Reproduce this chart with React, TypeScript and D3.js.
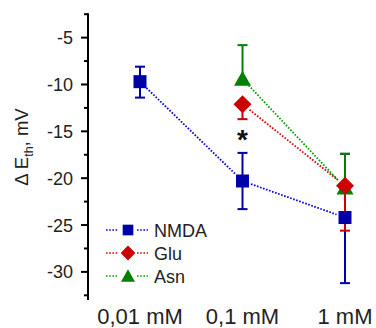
import React from "react";
import * as d3 from "d3";

const categories = ["0,01 mM", "0,1 mM", "1 mM"];
const yTicks = [-5, -10, -15, -20, -25, -30];
const yMinorTicks = [-2.5, -7.5, -12.5, -17.5, -22.5, -27.5, -32.5];

// value, error up, error down (0 = not shown)
const nmdaCats = ["0,01 mM", "0,1 mM", "1 mM"];
const nmdaValues = [-9.7, -20.3, -24.2];
const nmdaErrUp = [1.6, 3.0, 6.8];
const nmdaErrDown = [1.7, 3.0, 7.0];

const gluCats = ["0,1 mM", "1 mM"];
const gluValues = [-12.1, -20.8];
const gluErrUp = [0, 0];
const gluErrDown = [1.6, 4.8];

const asnCats = ["0,1 mM", "1 mM"];
const asnValues = [-9.4, -21.0];
const asnErrUp = [3.6, 3.6];
const asnErrDown = [0, 0];

const seriesNames = ["NMDA", "Glu", "Asn"];

const W = 376;
const H = 328;
const FONT = "Arial, 'Liberation Sans', sans-serif";

const x = d3.scalePoint<string>().domain(categories).range([140, 345]);
const y = d3.scaleLinear().domain([-33, -2.5]).range([300, 14.2]);

type Series = {
  name: string;
  cats: string[];
  values: number[];
  up: number[];
  down: number[];
  line: string;
  fill: string;
  shape: "square" | "diamond" | "triangle";
};

const nmda: Series = { name: seriesNames[0], cats: nmdaCats, values: nmdaValues, up: nmdaErrUp, down: nmdaErrDown, line: "#0000E0", fill: "#0000A8", shape: "square" };
const glu: Series = { name: seriesNames[1], cats: gluCats, values: gluValues, up: gluErrUp, down: gluErrDown, line: "#E00000", fill: "#CC0000", shape: "diamond" };
const asn: Series = { name: seriesNames[2], cats: asnCats, values: asnValues, up: asnErrUp, down: asnErrDown, line: "#00A000", fill: "#008000", shape: "triangle" };

const lineOrder = [asn, glu, nmda];
const errOrder = [nmda, glu, asn];
const markerOrder = [asn, glu, nmda];

function marker(shape: Series["shape"], cx: number, cy: number, fill: string, s = 1) {
  if (shape === "square") {
    const h = 6.5 * s;
    return <rect x={cx - h} y={cy - h} width={2 * h} height={2 * h} fill={fill} />;
  }
  if (shape === "diamond") {
    const h = 9 * s;
    return <path d={`M${cx},${cy - h}L${cx + h},${cy}L${cx},${cy + h}L${cx - h},${cy}Z`} fill={fill} />;
  }
  const hw = 8.5 * s;
  const hh = 7 * s;
  return <path d={`M${cx},${cy - hh - 1}L${cx + hw},${cy + hh}L${cx - hw},${cy + hh}Z`} fill={fill} />;
}

function shortened(x1: number, y1: number, x2: number, y2: number, g: number) {
  const dx = x2 - x1, dy = y2 - y1;
  const L = Math.hypot(dx, dy);
  const ux = dx / L, uy = dy / L;
  return { x1: x1 + ux * g, y1: y1 + uy * g, x2: x2 - ux * g, y2: y2 - uy * g };
}

export default function App() {
  const axisX = 88;
  const legendRows = [
    { s: nmda, yy: 230 },
    { s: glu, yy: 253 },
    { s: asn, yy: 276 },
  ];
  return (
    <svg width={W} height={H} style={{ position: "absolute", left: 0, top: 0, background: "#fff" }} fontFamily={FONT}>
      {/* Y axis */}
      <line x1={axisX} x2={axisX} y1={y(-2.5) - 1} y2={y(-33)} stroke="#000" strokeWidth={2} />
      {yTicks.map((t) => (
        <g key={t}>
          <line x1={axisX - 7} x2={axisX} y1={y(t)} y2={y(t)} stroke="#000" strokeWidth={2} />
          <text x={axisX - 15} y={y(t) + 6.5} textAnchor="end" fontSize={18} fill="#222">{t}</text>
        </g>
      ))}
      {yMinorTicks.map((t) => (
        <line key={t} x1={axisX - 4} x2={axisX} y1={y(t)} y2={y(t)} stroke="#000" strokeWidth={2} />
      ))}
      {/* Y label */}
      <text transform={`translate(28,147) rotate(-90)`} textAnchor="middle" fontSize={18.5} fill="#222">
        Δ E<tspan fontSize={12.5} dy={5}>th</tspan><tspan dy={-5}>, mV</tspan>
      </text>
      {/* X labels */}
      {categories.map((c) => (
        <text key={c} x={x(c)} y={323.5} textAnchor="middle" fontSize={22} fill="#222">{c}</text>
      ))}
      {/* connecting lines */}
      {lineOrder.map((s) => (
        <g key={s.name + "l"}>
          {s.cats.slice(1).map((c, i) => {
            const seg = shortened(x(s.cats[i])!, y(s.values[i]), x(c)!, y(s.values[i + 1]), 9);
            return <line key={c} {...seg} stroke={s.line} strokeWidth={1.8} strokeDasharray="1.6,1.6" />;
          })}
        </g>
      ))}
      {/* error bars */}
      {errOrder.map((s) => (
        <g key={s.name + "e"}>
          {s.cats.map((c, i) => {
            const cx = x(c)!;
            const v = s.values[i];
            return (
              <g key={c}>
                {s.up[i] > 0 && (
                  <g>
                    <line x1={cx} x2={cx} y1={y(v)} y2={y(v + s.up[i])} stroke={s.fill} strokeWidth={2} />
                    <line x1={cx - 5} x2={cx + 5} y1={y(v + s.up[i])} y2={y(v + s.up[i])} stroke={s.fill} strokeWidth={2} />
                  </g>
                )}
                {s.down[i] > 0 && (
                  <g>
                    <line x1={cx} x2={cx} y1={y(v)} y2={y(v - s.down[i])} stroke={s.fill} strokeWidth={2} />
                    <line x1={cx - 5} x2={cx + 5} y1={y(v - s.down[i])} y2={y(v - s.down[i])} stroke={s.fill} strokeWidth={2} />
                  </g>
                )}
              </g>
            );
          })}
        </g>
      ))}
      {/* markers */}
      {markerOrder.map((s) => (
        <g key={s.name + "m"}>
          {s.cats.map((c, i) => (
            <g key={c}>{marker(s.shape, x(c)!, y(s.values[i]), s.fill)}</g>
          ))}
        </g>
      ))}
      {/* asterisk */}
      <text x={x("0,1 mM")} y={149} textAnchor="middle" fontSize={28} fontWeight="bold" fill="#111">*</text>
      {/* legend */}
      {legendRows.map(({ s, yy }) => (
        <g key={s.name + "lg"}>
          <line x1={106} x2={118} y1={yy} y2={yy} stroke={s.line} strokeWidth={1.6} strokeDasharray="1.6,1.6" />
          <line x1={137} x2={148} y1={yy} y2={yy} stroke={s.line} strokeWidth={1.6} strokeDasharray="1.6,1.6" />
          {marker(s.shape, 128, yy, s.fill, 0.82)}
          <text x={154} y={yy + 6.5} fontSize={18} fill="#222">{s.name}</text>
        </g>
      ))}
    </svg>
  );
}
